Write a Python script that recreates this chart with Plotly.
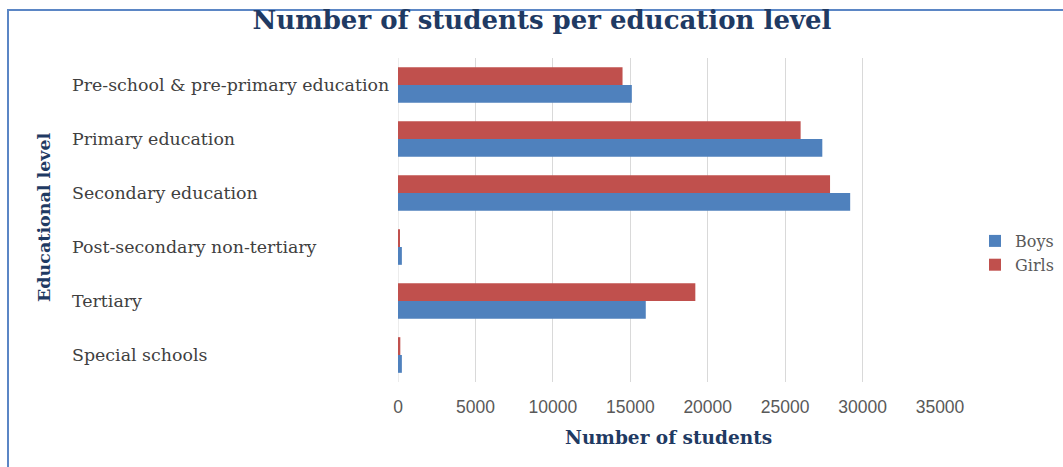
import plotly.graph_objects as go

categories = ["Pre-school & pre-primary education", "Primary education", "Secondary education",
              "Post-secondary non-tertiary", "Tertiary", "Special schools"]
boys = [15100, 27400, 29200, 250, 16000, 250]
girls = [14500, 26000, 27900, 80, 19200, 150]
x_ticks = [0, 5000, 10000, 15000, 20000, 25000, 30000, 35000]

serif = "DejaVu Serif"
navy = "#1F3A63"

fig = go.Figure()
fig.add_trace(go.Bar(y=categories, x=girls, name="Girls", orientation="h",
                     marker=dict(color="#C0504D", line=dict(width=0))))
fig.add_trace(go.Bar(y=categories, x=boys, name="Boys", orientation="h",
                     marker=dict(color="#4F81BD", line=dict(width=0))))

for c in categories:
    fig.add_annotation(x=(70 - 398) / 542, xref="paper", y=c, yref="y", text=c, showarrow=False,
                       xanchor="left", yanchor="middle",
                       font=dict(family=serif, size=17.4, color="#404040"))

fig.add_annotation(x=(44 - 398) / 542, xref="paper", y=(382 - 217) / 324, yref="paper",
                   text="<b>Educational level</b>", textangle=-90, showarrow=False,
                   xanchor="center", yanchor="middle",
                   font=dict(family=serif, size=17.5, color=navy))
fig.add_annotation(x=(668 - 398) / 542, xref="paper", y=(382 - 438) / 324, yref="paper",
                   text="<b>Number of students</b>", showarrow=False,
                   xanchor="center", yanchor="middle",
                   font=dict(family=serif, size=18.5, color=navy))

fig.add_shape(type="rect", xref="paper", yref="paper",
              x0=(8 - 398) / 542, x1=1.5, y0=-0.5, y1=(382 - 10) / 324,
              line=dict(color="#5B86C5", width=2), fillcolor="rgba(0,0,0,0)")

fig.update_layout(
    width=1063, height=467,
    margin=dict(l=398, r=123, t=58, b=85, autoexpand=False),
    paper_bgcolor="white", plot_bgcolor="white",
    barmode="group", bargap=0.34, bargroupgap=0,
    title=dict(text="<b>Number of students per education level</b>",
               x=542 / 1063, xanchor="center", xref="paper" if False else "container",
               y=1 - 20 / 467, yanchor="middle",
               font=dict(family=serif, size=26, color=navy)),
    xaxis=dict(range=[0, 35000], tickvals=x_ticks, ticktext=[str(v) for v in x_ticks],
               showgrid=True, gridcolor="#D9D9D9", gridwidth=1, zeroline=False,
               showline=False, ticks="", ticklabelstandoff=12,
               tickfont=dict(family="Liberation Sans", size=17.5, color="#595959")),
    yaxis=dict(autorange="reversed", showticklabels=False, showgrid=False,
               showline=False, ticks="", zeroline=False),
    legend=dict(x=(975 - 398) / 542, y=(382 - 253) / 324, xanchor="left", yanchor="middle",
                traceorder="reversed",
                font=dict(family=serif, size=16, color="#595959"),
                itemwidth=30, tracegroupgap=0, bgcolor="rgba(0,0,0,0)"),
)
fig.add_shape(type="line", xref="x", yref="paper", x0=0, x1=0, y0=0, y1=1,
              line=dict(color="#D9D9D9", width=1), layer="below")

fig.write_html("out.html")
